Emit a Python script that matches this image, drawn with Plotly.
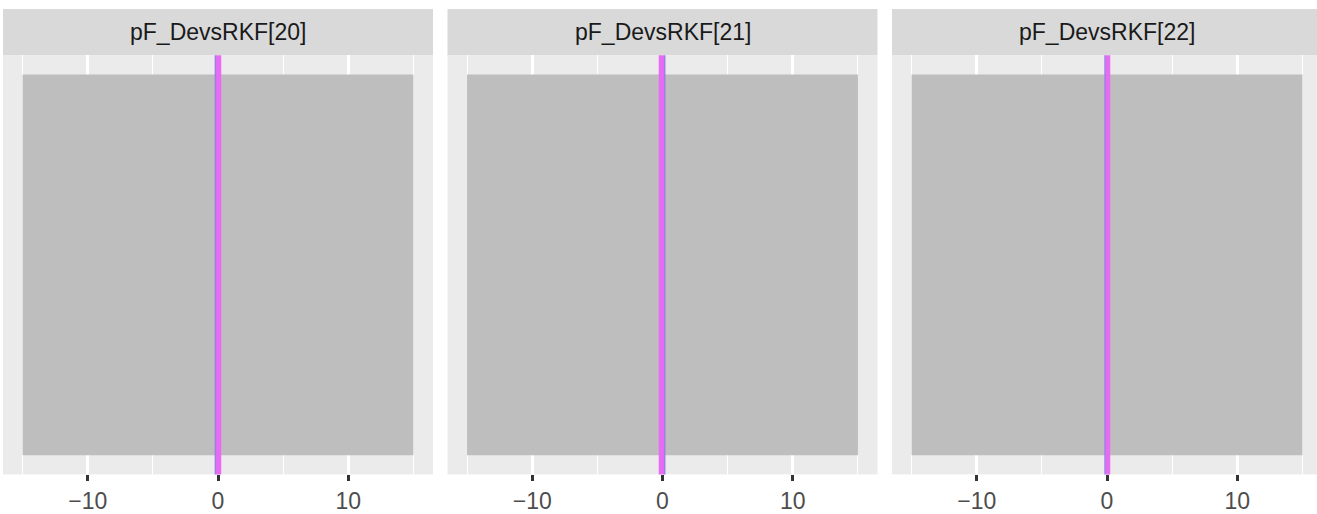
import plotly.graph_objects as go

# ---- data ----
params = ["pF_DevsRKF[20]", "pF_DevsRKF[21]", "pF_DevsRKF[22]"]
prior_lower = [-15, -15, -15]
prior_upper = [15, 15, 15]
post_lower = [-0.15, -0.29, -0.13]
post_upper = [0.25, 0.12, 0.25]
ref_value = [-0.2, 0.17, -0.15]
tick_vals = [-10, 0, 10]
tick_text = ["\u221210", "0", "10"]
minor_vals = [-15, -5, 5, 15]

W, H = 1317, 514
FONT = "Liberation Sans, Arial, Helvetica, sans-serif"
panel_px = [(3, 433), (447.5, 877.5), (892, 1317)]
px_per_unit = 430 / 33.0
panel_top, panel_bot = 56, 480
strip_top = 9
dens = 1.0 / 30.0
yr = [-0.05 * dens, 1.05 * dens]

fig = go.Figure()
layout = dict(
    width=W, height=H, autosize=False,
    margin=dict(l=0, r=0, t=0, b=0),
    paper_bgcolor="white", plot_bgcolor="#EBEBEB",
    showlegend=False,
    font=dict(family=FONT),
)
shapes, annots = [], []
for i, name in enumerate(params):
    ax = "" if i == 0 else str(i + 1)
    x0, x1 = panel_px[i]
    lo = -16.5
    hi = lo + (x1 - x0) / px_per_unit
    layout["xaxis" + ax] = dict(
        domain=[x0 / W, x1 / W], range=[lo, hi], anchor="y" + ax,
        tickvals=tick_vals, ticktext=tick_text,
        ticks="outside", ticklen=6, tickwidth=2.5, tickcolor="#333333",
        tickfont=dict(size=23, color="#4D4D4D", family=FONT),
        showgrid=True, gridcolor="white", gridwidth=2.7,
        minor=dict(tickvals=minor_vals, showgrid=True, gridcolor="white", gridwidth=1.4, ticks=""),
        zeroline=False, showline=False, fixedrange=True,
    )
    layout["yaxis" + ax] = dict(
        domain=[(H - panel_bot) / H, (H - panel_top) / H], range=yr, anchor="x" + ax,
        showticklabels=False, ticks="", showgrid=False, zeroline=False, showline=False,
        fixedrange=True,
    )
    # prior uniform
    fig.add_trace(go.Scatter(
        x=[prior_lower[i], prior_upper[i], prior_upper[i], prior_lower[i], prior_lower[i]],
        y=[0, 0, dens, dens, 0], mode="lines", fill="toself",
        fillcolor="#BEBEBE", line=dict(width=0), hoverinfo="skip",
        xaxis="x" + ax, yaxis="y" + ax,
    ))
    # posterior (very narrow, exceeds panel)
    fig.add_trace(go.Scatter(
        x=[post_lower[i], post_upper[i], post_upper[i], post_lower[i], post_lower[i]],
        y=[-1, -1, 1, 1, -1], mode="lines", fill="toself",
        fillcolor="#E76BF3", line=dict(width=0), hoverinfo="skip",
        xaxis="x" + ax, yaxis="y" + ax,
    ))
    fig.add_trace(go.Scatter(
        x=[ref_value[i], ref_value[i]], y=[-1, 1], mode="lines",
        line=dict(color="#A07CE6", width=1.5), hoverinfo="skip",
        xaxis="x" + ax, yaxis="y" + ax,
    ))
    # strip
    shapes.append(dict(type="rect", xref="paper", yref="paper",
                       x0=x0 / W, x1=x1 / W,
                       y0=(H - panel_top) / H, y1=(H - strip_top) / H,
                       fillcolor="#D9D9D9", line=dict(width=0), layer="below"))
    cx = x0 + 16.5 * px_per_unit
    annots.append(dict(text=name, xref="paper", yref="paper",
                       x=cx / W, y=(H - (strip_top + panel_top) / 2) / H,
                       xanchor="center", yanchor="middle", showarrow=False,
                       font=dict(size=23, color="#1A1A1A", family=FONT)))

layout["shapes"] = shapes
layout["annotations"] = annots
fig.update_layout(**layout)
fig.write_html("out.html", config={"displayModeBar": False},
               post_script="document.body.style.margin='0';")
